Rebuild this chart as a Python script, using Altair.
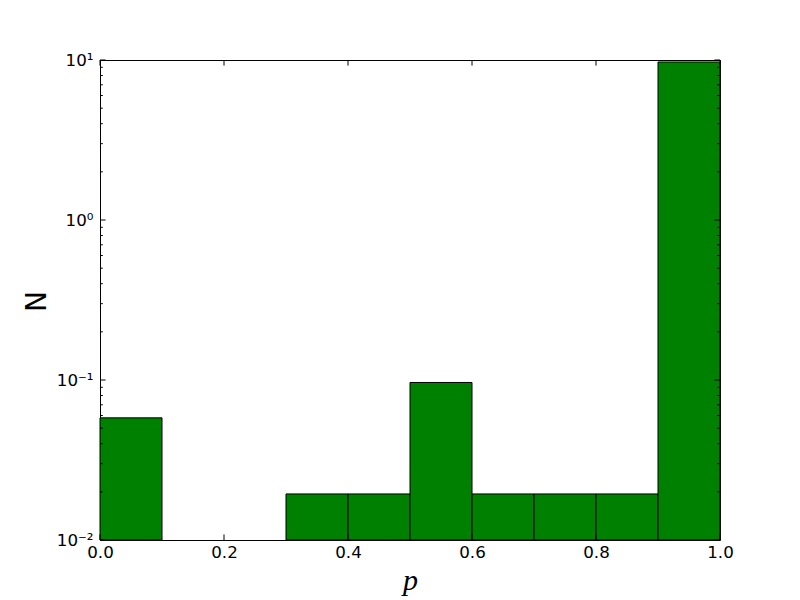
import altair as alt
import pandas as pd

# histogram bins (density values)
bin_left = [0.0, 0.3, 0.4, 0.5, 0.6, 0.7, 0.8, 0.9]
bin_right = [0.1, 0.4, 0.5, 0.6, 0.7, 0.8, 0.9, 1.0]
density = [0.058, 0.0194, 0.0194, 0.0965, 0.0194, 0.0194, 0.0194, 9.72]

x_major = [0.0, 0.2, 0.4, 0.6, 0.8, 1.0]
y_major = [0.01, 0.1, 1, 10]
y_minor = [0.02, 0.03, 0.04, 0.05, 0.06, 0.07, 0.08, 0.09,
           0.2, 0.3, 0.4, 0.5, 0.6, 0.7, 0.8, 0.9,
           2, 3, 4, 5, 6, 7, 8, 9]

W, H = 620, 480
MAJ, MIN = 5.6, 2.8

bars = pd.DataFrame({"left": bin_left, "right": bin_right, "val": density,
                     "base": [0.01] * len(density)})
xs = alt.Scale(domain=[0, 1], nice=False, zero=False)
ys = alt.Scale(type="log", domain=[0.01, 10], nice=False)

label_expr = ("datum.value < 0.05 ? '10⁻²' : datum.value < 0.5 ? '10⁻¹' : "
              "datum.value < 5 ? '10⁰' : '10¹'")

x_axis = alt.Axis(
    values=x_major, format=".1f", ticks=False, domain=False, grid=False,
    labelFont="DejaVu Sans", labelFontSize=16.7, labelColor="black",
    labelFlush=False, labelOverlap=False,
    labelPadding=4, title="p", titleFont="Liberation Serif",
    titleFontStyle="italic", titleFontWeight="normal", titleFontSize=30,
    titleColor="black", titleX=W / 2, titleY=49, titleBaseline="alphabetic",
    titleAlign="center")
y_axis = alt.Axis(
    values=y_major, labelExpr=label_expr, ticks=False, domain=False, grid=False,
    labelFont="DejaVu Sans", labelFontSize=16.7, labelColor="black",
    labelFlush=False, labelOverlap=False,
    labelPadding=7, title="N", titleFont="DejaVu Sans",
    titleFontWeight="normal", titleFontSize=28, titleColor="black",
    titleAngle=-90, titleX=-63, titleY=H / 2 + 1, titleAlign="center",
    titleBaseline="middle")

bar_layer = alt.Chart(bars).mark_rect(
    color="#008000", stroke="black", strokeWidth=1
).encode(
    x=alt.X("left:Q", scale=xs, axis=x_axis),
    x2="right:Q",
    y=alt.Y("val:Q", scale=ys, axis=y_axis),
    y2="base:Q",
)

ymaj = pd.DataFrame({"t": y_major})
ymin = pd.DataFrame({"t": y_minor})
xmaj = pd.DataFrame({"t": x_major})


def yrule(df, x1, x2):
    return alt.Chart(df).mark_rule(color="black", strokeWidth=1).encode(
        y=alt.Y("t:Q", scale=ys, axis=y_axis), x=alt.value(x1), x2=alt.value(x2))


def xrule(df, y1, y2):
    return alt.Chart(df).mark_rule(color="black", strokeWidth=1).encode(
        x=alt.X("t:Q", scale=xs, axis=x_axis), y=alt.value(y1), y2=alt.value(y2))


chart = alt.layer(
    bar_layer,
    yrule(ymaj, 0, MAJ), yrule(ymin, 0, MIN),
    yrule(ymaj, W, W - MAJ), yrule(ymin, W, W - MIN),
    xrule(xmaj, H, H - MAJ), xrule(xmaj, 0, MAJ),
).properties(
    width=W, height=H,
    autosize=alt.AutoSizeParams(type="none"),
    padding={"left": 92, "top": 52, "right": 72, "bottom": 60},
).configure(
    background="white"
).configure_view(
    stroke="black", strokeWidth=1
)

chart.save("out.html", embed_options={"renderer": "svg", "actions": False})
